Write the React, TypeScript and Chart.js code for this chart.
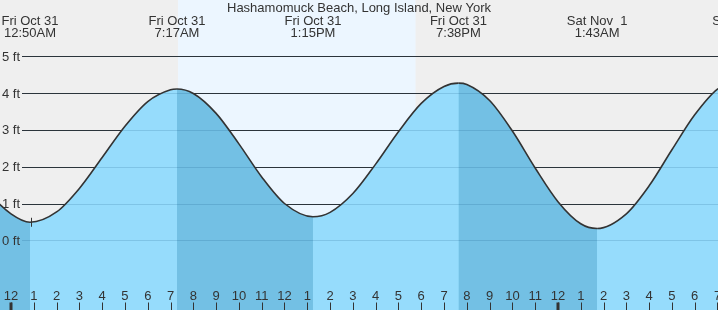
import React, { useEffect, useRef } from "react";
import { Chart, registerables } from "chart.js";

Chart.register(...registerables);

const TITLE = "Hashamomuck Beach, Long Island, New York";

// Tide heights: time in hours since Fri Oct 31 00:00, height in ft
const tideTimes = [
  -6, -5, -4, -3, -2, -1, 0, 0.833, 2, 3, 4, 5, 6, 7, 7.283, 8, 9, 10, 11, 12,
  13.25, 14, 15, 16, 17, 18, 19, 19.633, 20, 21, 22, 23, 24, 25, 25.717, 27, 28,
  29, 30, 31, 32.1, 33,
];
const tideHeights = [
  4.1, 4.05, 3.65, 2.95, 2.1, 1.3, 0.72, 0.49, 0.77, 1.41, 2.25, 3.1, 3.77, 4.09,
  4.11, 3.99, 3.45, 2.62, 1.72, 1.0, 0.64, 0.76, 1.27, 2.07, 2.95, 3.72, 4.18,
  4.27, 4.235, 3.8, 2.97, 1.965, 1.05, 0.45, 0.32, 0.72, 1.48, 2.46, 3.41, 4.11,
  4.4, 4.25,
];

// High / low tide labels along the top
const extremeTimes = [0.833, 7.283, 13.25, 19.633, 25.717, 32.1];
const extremeDays = ["Fri Oct 31", "Fri Oct 31", "Fri Oct 31", "Fri Oct 31", "Sat Nov  1", "Sat Nov  1"];
const extremeClock = ["12:50AM", "7:17AM", "1:15PM", "7:38PM", "1:43AM", "8:06AM"];

// Hour ticks along the bottom
const hourTicks = [
  -1, 0, 1, 2, 3, 4, 5, 6, 7, 8, 9, 10, 11, 12, 13, 14, 15, 16, 17, 18, 19, 20,
  21, 22, 23, 24, 25, 26, 27, 28, 29, 30, 31, 32,
];
const hourLabels = [
  "11", "12", "1", "2", "3", "4", "5", "6", "7", "8", "9", "10", "11", "12",
  "1", "2", "3", "4", "5", "6", "7", "8", "9", "10", "11", "12",
  "1", "2", "3", "4", "5", "6", "7", "8",
];
const midnightTicks = [0, 24];

// Height grid
const footTicks = [0, 1, 2, 3, 4, 5];
const footLabels = ["0 ft", "1 ft", "2 ft", "3 ft", "4 ft", "5 ft"];

// Daylight and current-time marker
const dayStart = 7.33;
const dayEnd = 17.75;
const nowTime = 0.86;
const nowHeight = 0.49;

const X_MIN = -0.483;
const X_MAX = 31.022;
const Y_MIN = -1.894;
const Y_MAX = 6.53;

const FONT = '13px "Liberation Sans", Arial, sans-serif';
const TEXT = "#333333";
const LIGHT = "rgb(150,220,252)";
const DARK = "rgb(115,192,228)";
const CLEAR = "rgba(0,0,0,0)";

const decorPlugin = {
  id: "tideDecor",
  beforeDraw(chart: any) {
    const { ctx, chartArea: a, scales } = chart;
    const x = scales.x;
    const y = scales.y;
    ctx.save();
    ctx.fillStyle = "#efefef";
    ctx.fillRect(a.left, a.top, a.right - a.left, a.bottom - a.top);
    const d0 = x.getPixelForValue(dayStart);
    const d1 = x.getPixelForValue(dayEnd);
    ctx.fillStyle = "rgb(236,246,255)";
    ctx.fillRect(d0, a.top, d1 - d0, a.bottom - a.top);
    ctx.strokeStyle = "#333333";
    ctx.lineWidth = 1;
    for (const f of footTicks) {
      const py = Math.round(y.getPixelForValue(f)) + 0.5;
      ctx.beginPath();
      ctx.moveTo(a.left + 22, py);
      ctx.lineTo(a.right, py);
      ctx.stroke();
    }
    ctx.restore();
  },
  beforeDatasetDraw(chart: any, args: any) {
    if (args.index !== 1) return;
    const { ctx, chartArea: a, scales } = chart;
    const y = scales.y;
    ctx.save();
    ctx.strokeStyle = "rgba(0,60,110,0.15)";
    ctx.lineWidth = 1;
    for (const f of footTicks) {
      const py = Math.round(y.getPixelForValue(f)) + 0.5;
      ctx.beginPath();
      ctx.moveTo(a.left + 22, py);
      ctx.lineTo(a.right, py);
      ctx.stroke();
    }
    ctx.restore();
  },
  afterDatasetsDraw(chart: any) {
    const { ctx, chartArea: a, scales } = chart;
    const x = scales.x;
    const y = scales.y;
    ctx.save();
    ctx.font = FONT;
    ctx.fillStyle = TEXT;
    ctx.strokeStyle = TEXT;
    ctx.textBaseline = "alphabetic";

    ctx.textAlign = "left";
    footTicks.forEach((f, i) => {
      const py = y.getPixelForValue(f);
      ctx.fillText(footLabels[i], a.left + 2, py + 4.5);
    });

    ctx.textAlign = "center";
    hourTicks.forEach((h, i) => {
      const px = x.getPixelForValue(h);
      ctx.fillText(hourLabels[i], px, a.bottom - 10);
      ctx.lineWidth = 1;
      ctx.beginPath();
      ctx.moveTo(Math.round(px) + 0.5, a.bottom - 7.5);
      ctx.lineTo(Math.round(px) + 0.5, a.bottom);
      ctx.stroke();
    });
    midnightTicks.forEach((h) => {
      const px = x.getPixelForValue(h);
      ctx.fillRect(Math.round(px) - 1.5, a.bottom - 7.5, 3, 7.5);
    });

    const mx = Math.round(x.getPixelForValue(nowTime)) + 0.5;
    const my = y.getPixelForValue(nowHeight);
    ctx.lineWidth = 1;
    ctx.beginPath();
    ctx.moveTo(mx, my - 4.5);
    ctx.lineTo(mx, my + 4.5);
    ctx.stroke();

    extremeTimes.forEach((t, i) => {
      const px = x.getPixelForValue(t);
      ctx.fillText(extremeDays[i], px, a.top + 25);
      ctx.fillText(extremeClock[i], px, a.top + 37);
    });

    ctx.fillText(TITLE, (a.left + a.right) / 2, a.top + 12);
    ctx.restore();
  },
};

export default function App() {
  const ref = useRef<HTMLCanvasElement | null>(null);
  useEffect(() => {
    document.body.style.margin = "0";
    const canvas = ref.current;
    if (!canvas) return;
    const points = tideTimes.map((t, i) => ({ x: t, y: tideHeights[i] }));
    const chart = new Chart(canvas, {
      type: "line",
      data: {
        datasets: [
          {
            data: points,
            borderWidth: 0,
            borderColor: CLEAR,
            backgroundColor: LIGHT,
            fill: "start",
            pointRadius: 0,
            cubicInterpolationMode: "monotone",
            order: 2,
          },
          {
            data: points,
            borderColor: "#333333",
            borderWidth: 1.6,
            backgroundColor: CLEAR,
            fill: "start",
            pointRadius: 0,
            cubicInterpolationMode: "monotone",
            order: 1,
            segment: {
              backgroundColor: (c: any) => (c.p1.parsed.y < c.p0.parsed.y ? DARK : CLEAR),
            },
          },
        ],
      },
      options: {
        animation: false,
        responsive: false,
        devicePixelRatio: 1,
        layout: { padding: 0 },
        plugins: { legend: { display: false }, tooltip: { enabled: false } },
        scales: {
          x: { type: "linear", min: X_MIN, max: X_MAX, display: false },
          y: { type: "linear", min: Y_MIN, max: Y_MAX, display: false },
        },
      },
      plugins: [decorPlugin],
    });
    return () => chart.destroy();
  }, []);
  return (
    <div style={{ position: "absolute", left: 0, top: 0, width: 718, height: 310 }}>
      <canvas ref={ref} width={718} height={310} style={{ display: "block", width: 718, height: 310 }} />
    </div>
  );
}
